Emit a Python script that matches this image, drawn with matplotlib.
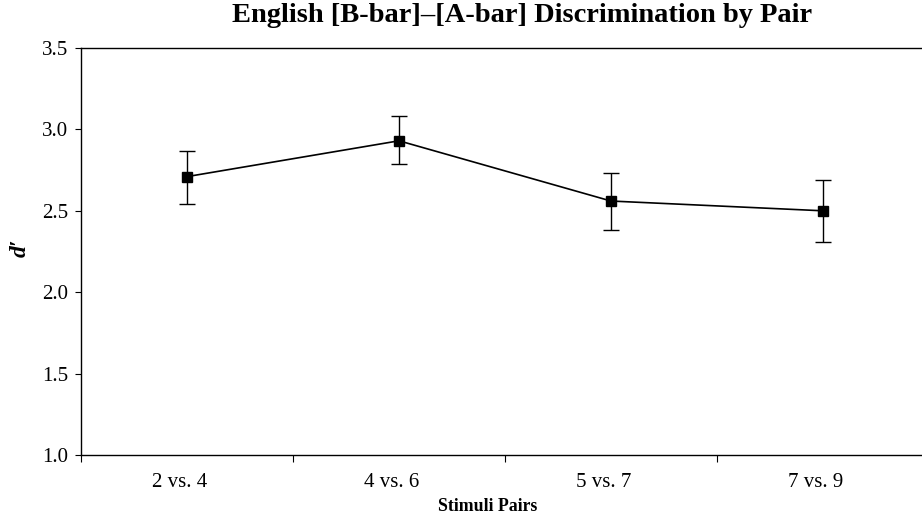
import numpy as np
import matplotlib.pyplot as plt
import matplotlib.transforms as mtransforms
from matplotlib.ticker import FixedLocator

pairs = ["2 vs. 4", "4 vs. 6", "5 vs. 7", "7 vs. 9"]
dprime = [2.71, 2.93, 2.56, 2.50]
err_low = [2.54, 2.79, 2.38, 2.31]
err_high = [2.87, 3.08, 2.73, 2.69]

plt.rcParams['font.family'] = ['Liberation Serif', 'DejaVu Serif']

fig = plt.figure(figsize=(9.22, 5.19), dpi=100)
ax = fig.add_axes([81/922, 1 - 455/519, 848/922, (455 - 48)/519])

x = np.arange(len(pairs))
y = np.array(dprime)
yerr = [y - np.array(err_low), np.array(err_high) - y]
ax.errorbar(x, y, yerr=yerr, color='black', linewidth=1.2, elinewidth=1.0,
            capsize=6, capthick=1.0, marker='s', markersize=7,
            markerfacecolor='black', markeredgecolor='black')

ax.set_xlim(-0.5, len(pairs) - 0.5)
ax.set_ylim(1.0, 3.5)
ax.set_yticks([1.0, 1.5, 2.0, 2.5, 3.0, 3.5])
ax.set_yticklabels(["1.0", "1.5", "2.0", "2.5", "3.0", "3.5"], fontsize=15)
ax.set_xticks(x)
ax.set_xticklabels(pairs, fontsize=15)
ax.xaxis.set_minor_locator(FixedLocator(np.arange(-0.5, len(pairs), 1.0)))
ax.tick_params(axis='x', which='major', length=0, pad=13)
ax.tick_params(axis='x', which='minor', length=5, direction='out', width=0.8)
ax.tick_params(axis='y', length=4, direction='out', width=0.8, pad=5)

ax.spines['right'].set_visible(False)
for s in ['left', 'bottom', 'top']:
    ax.spines[s].set_linewidth(1.0)

ax.set_xlabel("Stimuli Pairs", fontsize=12.8, fontweight='bold')
ax.xaxis.set_label_coords(0.48, -0.105)
fig.text(20/922, 1 - 248/519, "d\u2032", rotation=90, ha='center', va='center',
         fontsize=17, fontweight='bold', style='italic')
fig.text(522/922, 1 - 15/519, "English [B-bar]\u2013[A-bar] Discrimination by Pair",
         ha='center', va='center', fontsize=20.5, fontweight='bold')

# the labels sit a little left of the markers in the original
fig.canvas.draw()
shift = mtransforms.ScaledTranslation(-7/100, 0, fig.dpi_scale_trans)
for t in ax.xaxis.get_major_ticks():
    t.label1.set_transform(t.label1.get_transform() + shift)

fig.savefig("out.png", dpi=100)
